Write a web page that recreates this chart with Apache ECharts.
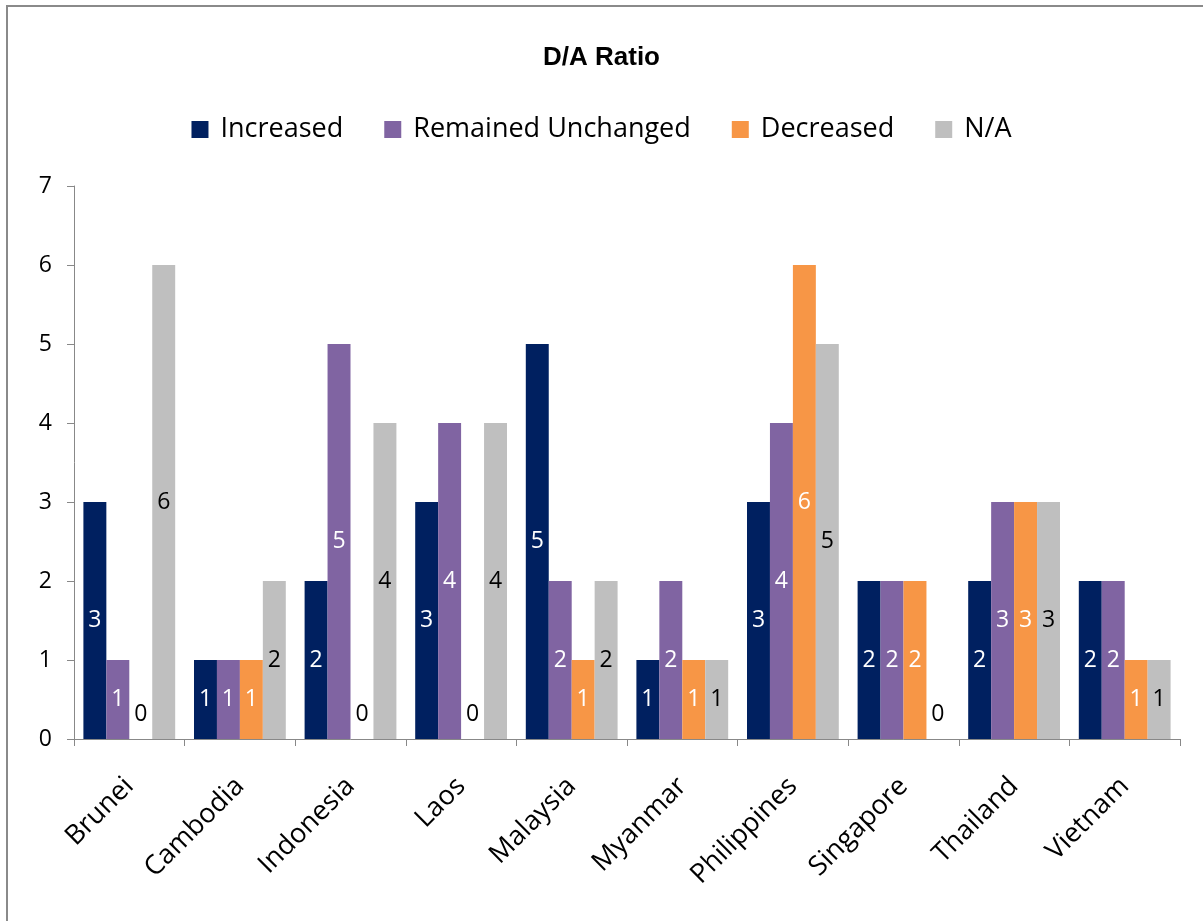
<!DOCTYPE html>
<html>
<head>
<meta charset="utf-8">
<script src="https://cdn.jsdelivr.net/npm/echarts@6/dist/echarts.min.js"></script>
<style>
  html, body { margin: 0; padding: 0; background: #fff; }
  #chart { width: 1203px; height: 921px; }
</style>
</head>
<body>
<div id="chart"></div>
<script>
// Country categories and counts per response
const countries = ['Brunei', 'Cambodia', 'Indonesia', 'Laos', 'Malaysia', 'Myanmar', 'Philippines', 'Singapore', 'Thailand', 'Vietnam'];
const increased = [3, 1, 2, 3, 5, 1, 3, 2, 2, 2];
const unchanged = [1, 1, 5, 4, 2, 2, 4, 2, 3, 2];
const decreased = [0, 1, 0, 0, 1, 1, 6, 2, 3, 1];
const notAvailable = [6, 2, 4, 4, 2, 1, 5, 0, 3, 1];
const yTicks = [0, 1, 2, 3, 4, 5, 6, 7];

const FONT = '"Open Sans", "DejaVu Sans", sans-serif';

function makeSeries(name, values, color, labelColor) {
  return {
    name: name,
    type: 'bar',
    barGap: '0%',
    barCategoryGap: '17%',
    itemStyle: { color: color },
    label: {
      show: true,
      position: 'inside',
      color: labelColor,
      fontFamily: FONT,
      fontSize: 23,
      formatter: '{c}'
    },
    data: values.map(function (v) {
      if (v === 0) {
        // zero bars have no height: put the value just above the axis in black
        return { value: v, label: { position: 'top', distance: 13, color: '#000' } };
      }
      return v;
    })
  };
}

const chart = echarts.init(document.getElementById('chart'), null, { renderer: 'canvas' });
chart.setOption({
  animation: false,
  backgroundColor: '#fff',
  graphic: [{
    type: 'rect',
    shape: { x: 7, y: 6, width: 1240, height: 960 },
    style: { fill: 'none', stroke: '#8a8a8a', lineWidth: 2 },
    silent: true,
    z: -1
  }],
  title: {
    text: 'D/A Ratio',
    left: 'center',
    top: 40,
    textStyle: { fontFamily: 'Liberation Sans, Arial, sans-serif', fontWeight: 'bold', fontSize: 26, color: '#000' }
  },
  legend: {
    top: 111,
    left: 'center',
    itemWidth: 17,
    itemHeight: 17,
    itemGap: 41,
    icon: 'rect',
    textStyle: { fontFamily: FONT, fontSize: 27, color: '#000', padding: [0, 0, 0, 7] },
    data: ['Increased', 'Remained Unchanged', 'Decreased', 'N/A']
  },
  grid: { left: 74, right: 23, top: 186, bottom: 182, containLabel: false },
  xAxis: {
    type: 'category',
    data: countries,
    axisLine: { lineStyle: { color: '#888', width: 1 } },
    axisTick: { show: true, length: 7, lineStyle: { color: '#888' } },
    axisLabel: { rotate: 45, fontFamily: FONT, fontSize: 27, color: '#000', margin: 43 }
  },
  yAxis: {
    type: 'value',
    min: yTicks[0],
    max: yTicks[yTicks.length - 1],
    interval: 1,
    splitLine: { show: false },
    axisLine: { show: true, lineStyle: { color: '#888', width: 1 } },
    axisTick: { show: true, length: 7, lineStyle: { color: '#888' } },
    axisLabel: { fontFamily: FONT, fontSize: 23, color: '#000', margin: 22 }
  },
  series: [
    makeSeries('Increased', increased, '#002060', '#fff'),
    makeSeries('Remained Unchanged', unchanged, '#8064A2', '#fff'),
    makeSeries('Decreased', decreased, '#F79646', '#fff'),
    makeSeries('N/A', notAvailable, '#BFBFBF', '#000')
  ]
});
</script>
</body>
</html>
